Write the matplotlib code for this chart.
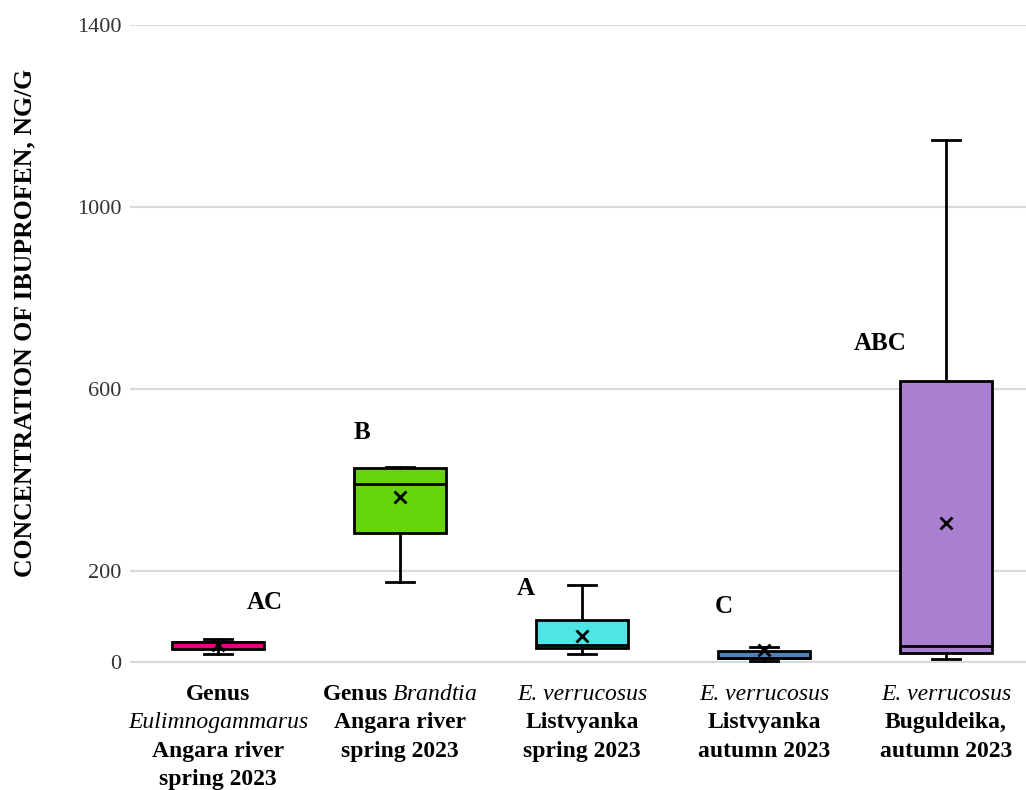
import matplotlib
matplotlib.use("Agg")
import matplotlib.pyplot as plt
import matplotlib.transforms as mtransforms

plt.rcParams['font.family'] = 'Liberation Serif'
plt.rcParams['mathtext.fontset'] = 'custom'
plt.rcParams['mathtext.rm'] = 'Liberation Serif'
plt.rcParams['mathtext.it'] = 'Liberation Serif:italic'

# summary statistics per group (ng/g)
whislo = [18, 176, 17, 3, 6]
q1 = [29, 283, 30, 9, 19]
med = [43, 391, 37, 9, 35]
q3 = [43, 427, 92, 23, 618]
whishi = [50, 429, 169, 32, 1147]
means = [37, 363, 58, 26, 305]

colors = ['#E6007E', '#66D40A', '#4DE5E5', '#4F81BD', '#A97FCF']

# each label line: (text, italic?)
group_labels = [
    [("Genus", False), ("Eulimnogammarus", True), ("Angara river", False), ("spring 2023", False)],
    [(r"Genus $\mathit{Brandtia}$", False), ("Angara river", False), ("spring 2023", False)],
    [("E. verrucosus", True), ("Listvyanka", False), ("spring 2023", False)],
    [("E. verrucosus", True), ("Listvyanka", False), ("autumn 2023", False)],
    [("E. verrucosus", True), ("Buguldeika,", False), ("autumn 2023", False)],
]

letters = ["AC", "B", "A", "C", "ABC"]
letter_x = [0.26, 0.79, 1.69, 2.78, 3.64]
letter_y = [116, 490, 147, 108, 686]

yticks = [0, 200, 600, 1000, 1400]

fig = plt.figure(figsize=(10.26, 7.9), dpi=100)
ax = fig.add_axes([130 / 1026, 1 - 666.5 / 790, 896 / 1026, (666.5 - 25) / 790])

stats = []
for i in range(len(med)):
    stats.append(dict(whislo=whislo[i], q1=q1[i], med=med[i], q3=q3[i],
                      whishi=whishi[i], mean=means[i], fliers=[]))

bp = ax.bxp(stats, positions=range(len(stats)), widths=0.51, capwidths=0.15,
            patch_artist=True, showmeans=True, showfliers=False,
            boxprops=dict(edgecolor='black', linewidth=2),
            whiskerprops=dict(color='black', linewidth=2),
            capprops=dict(color='black', linewidth=2),
            medianprops=dict(color='black', linewidth=2),
            meanprops=dict(marker='x', markeredgecolor='black',
                           markersize=8, markeredgewidth=2))
for patch, c in zip(bp['boxes'], colors):
    patch.set_facecolor(c)

ax.set_xlim(-0.4835, 4.44)
ax.set_ylim(-10, 1400)
ax.set_yticks(yticks)
ax.set_yticklabels([str(t) for t in yticks], fontsize=16, color='#333333')
ax.tick_params(axis='y', length=0, pad=6)
ax.set_xticks([])
ax.yaxis.grid(True, color='#D9D9D9', linewidth=1.5)
ax.set_axisbelow(True)
for s in ax.spines.values():
    s.set_visible(False)

# significance letters
for txt, x, y in zip(letters, letter_x, letter_y):
    ax.text(x, y, txt, ha='center', va='baseline', fontsize=18, fontweight='bold')

# multi-line category labels under the boxes
trans = mtransforms.blended_transform_factory(ax.transData, fig.transFigure)
for i, lines in enumerate(group_labels):
    for j, (line, italic) in enumerate(lines):
        ypx = 700 + j * 28.3
        ax.text(i, 1 - ypx / 790, line, transform=trans, ha='center',
                va='baseline', fontsize=17,
                fontweight='normal' if italic else 'bold',
                fontstyle='italic' if italic else 'normal', clip_on=False)

fig.text(25 / 1026, 1 - 323 / 790, "CONCENTRATION OF IBUPROFEN, NG/G",
         rotation=90, ha='center', va='center', fontsize=18.5, fontweight='bold')

fig.savefig("out.png", dpi=100)
